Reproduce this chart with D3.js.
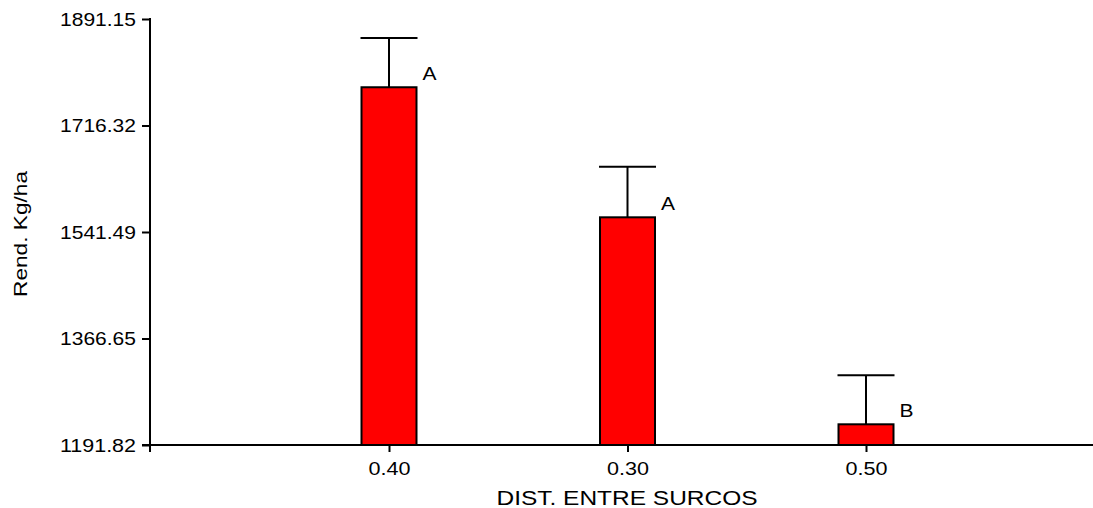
<!DOCTYPE html>
<html><head><meta charset="utf-8">
<script src="https://cdn.jsdelivr.net/npm/d3@7/dist/d3.min.js"></script>
<style>
html,body{margin:0;padding:0;background:#fff;}
svg{display:block;}
text{font-family:"Liberation Sans",Arial,sans-serif;fill:#000;}
</style></head>
<body>
<svg id="chart" width="1093" height="508"></svg>
<script>
const categories = ["0.40", "0.30", "0.50"];
const means = [1779.1, 1565.6, 1225.8];
const errorTops = [1860.0, 1648.7, 1306.2];
const groupLabels = ["A", "A", "B"];
const yTicks = [1191.82, 1366.65, 1541.49, 1716.32, 1891.15];
const xTitle = "DIST. ENTRE SURCOS";
const yTitle = "Rend. Kg/ha";

(function () {
const svg = d3.select("#chart");
const mLeft = 150, mRight = 1093, mTop = 19, mBottom = 445;
const y = d3.scaleLinear().domain([yTicks[0], yTicks[yTicks.length-1]]).range([mBottom, mTop]);
const x = d3.scalePoint().domain(categories).range([389, 866]);
const barW = 55;

const g = svg.append("g");
categories.forEach((c, i) => {
  const cx = x(c);
  g.append("line").attr("x1", cx).attr("x2", cx).attr("y1", y(means[i])).attr("y2", y(errorTops[i]))
    .attr("stroke", "#000").attr("stroke-width", 2);
  g.append("line").attr("x1", cx - barW/2 - 1).attr("x2", cx + barW/2 + 1).attr("y1", y(errorTops[i])).attr("y2", y(errorTops[i]))
    .attr("stroke", "#000").attr("stroke-width", 2);
  g.append("rect").attr("x", cx - barW/2).attr("y", y(means[i])).attr("width", barW)
    .attr("height", y(yTicks[0]) - y(means[i]))
    .attr("fill", "#ff0000").attr("stroke", "#000").attr("stroke-width", 2);
  g.append("text").attr("x", cx + barW/2 + 6).attr("y", y(means[i]) - 7)
    .attr("font-size", 19).attr("textLength", 14).attr("lengthAdjust", "spacingAndGlyphs").text(groupLabels[i]);
});

const yAxis = d3.axisLeft(y).tickValues(yTicks).tickFormat(d => d.toFixed(2)).tickSize(8).tickSizeOuter(0).tickPadding(6);
const ya = svg.append("g").attr("transform", `translate(${mLeft},0)`).call(yAxis);
ya.select(".domain").remove();
ya.selectAll(".tick line").attr("stroke", "#000").attr("stroke-width", 2);
ya.selectAll(".tick text").attr("font-size", 19).attr("textLength", 76).attr("lengthAdjust", "spacingAndGlyphs")
  .attr("font-family", "Liberation Sans, Arial, sans-serif");
svg.append("line").attr("x1", mLeft).attr("x2", mLeft).attr("y1", mTop - 1).attr("y2", mBottom + 7)
  .attr("stroke", "#000").attr("stroke-width", 2);

const xAxis = d3.axisBottom(x).tickSize(7).tickSizeOuter(0).tickPadding(10);
const xa = svg.append("g").attr("transform", `translate(0,${mBottom})`).call(xAxis);
xa.select(".domain").remove();
xa.selectAll(".tick line").attr("stroke", "#000").attr("stroke-width", 2);
xa.selectAll(".tick text").attr("font-size", 19).attr("textLength", 42).attr("lengthAdjust", "spacingAndGlyphs")
  .attr("font-family", "Liberation Sans, Arial, sans-serif");
svg.append("line").attr("x1", mLeft - 8).attr("x2", mRight).attr("y1", mBottom).attr("y2", mBottom)
  .attr("stroke", "#000").attr("stroke-width", 2);

svg.append("text").attr("x", 627).attr("y", 505).attr("text-anchor", "middle")
  .attr("font-size", 19.5).attr("textLength", 261).attr("lengthAdjust", "spacingAndGlyphs").text(xTitle);
svg.append("text").attr("transform", "translate(27,234) rotate(-90)").attr("text-anchor", "middle")
  .attr("font-size", 19).attr("textLength", 126).attr("lengthAdjust", "spacingAndGlyphs").text(yTitle);
})();
</script>
</body></html>
